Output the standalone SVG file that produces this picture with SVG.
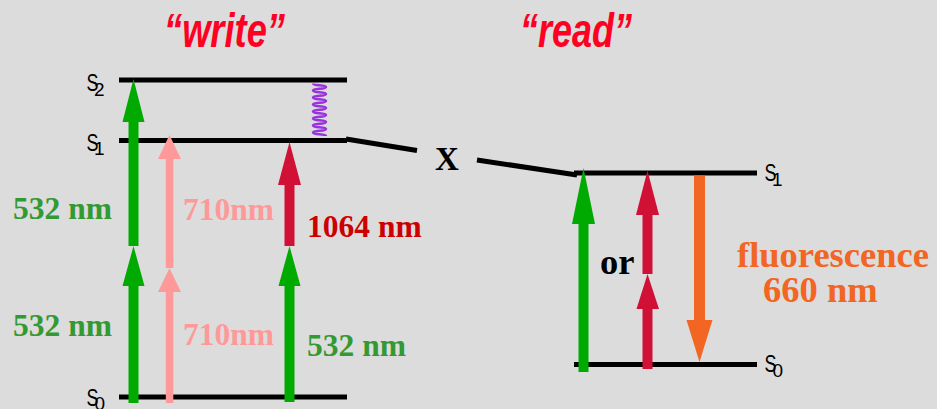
<svg xmlns="http://www.w3.org/2000/svg" width="937" height="409" viewBox="0 0 937 409">
<style>
.lvl{stroke:#000;stroke-width:5;fill:none}
.sl{font-family:"Liberation Sans",Arial,sans-serif;font-size:23px;fill:#000}
.sub{font-family:"Liberation Sans",Arial,sans-serif;font-size:19px;fill:#000}
.lab{font-family:"Liberation Serif","Times New Roman",serif;font-weight:bold;font-size:31.5px}
.big{font-family:"Liberation Serif","Times New Roman",serif;font-weight:bold;font-size:36.5px}
.title{font-family:"Liberation Sans",Arial,sans-serif;font-weight:bold;font-style:italic;font-size:49px;fill:#FF0022}
.g{fill:#00AA00}.p{fill:#FF9999}.r{fill:#D01034}.o{fill:#F26522}
</style>
<rect width="937" height="409" fill="#DCDCDC"/>
<g id="titles">
<text class="title" x="164" y="47" textLength="121" lengthAdjust="spacingAndGlyphs">“write”</text>
<text class="title" x="520" y="47" textLength="112" lengthAdjust="spacingAndGlyphs">“read”</text>
</g>
<g id="write-S2"><line class="lvl" x1="119" y1="80" x2="347" y2="80"/><text class="sl" x="86.5" y="91" textLength="12" lengthAdjust="spacingAndGlyphs">S</text><text class="sub" x="94" y="96">2</text></g>
<g id="write-S1"><line class="lvl" x1="119" y1="140.5" x2="347" y2="140.5"/><text class="sl" x="86.5" y="151" textLength="12" lengthAdjust="spacingAndGlyphs">S</text><text class="sub" x="94" y="155">1</text></g>
<g id="write-S0"><line class="lvl" x1="119" y1="397" x2="347" y2="397"/><text class="sl" x="86.5" y="406" textLength="12" lengthAdjust="spacingAndGlyphs">S</text><text class="sub" x="94.5" y="410">0</text></g>
<g id="read-S1"><line class="lvl" x1="574" y1="173" x2="757" y2="173"/><text class="sl" x="764.5" y="181" textLength="12" lengthAdjust="spacingAndGlyphs">S</text><text class="sub" x="772" y="186">1</text></g>
<g id="read-S0"><line class="lvl" x1="574" y1="364.5" x2="757" y2="364.5"/><text class="sl" x="764.5" y="372" textLength="12" lengthAdjust="spacingAndGlyphs">S</text><text class="sub" x="772.5" y="377">0</text></g>
<g id="connectors">
<path d="M346,139 L417,150.5 M477,160 L577,175" stroke="#000" stroke-width="5" fill="none"/>
<path d="M313,83.5 C313,86 326,84.5 326,87 C326,89.5 313,88 313,90.5 C313,93 326,91.5 326,94 C326,96.5 313,95 313,97.5 C313,100 326,98.5 326,101 C326,103.5 313,102 313,104.5 C313,107 326,105.5 326,108 C326,110.5 313,109 313,111.5 C313,114 326,112.5 326,115 C326,117.5 313,116 313,118.5 C313,121 326,119.5 326,122 C326,124.5 313,123 313,125.5 C313,128 326,126.5 326,129 C326,131.5 313,130 313,132.5 C313,135 326,133.5 326,136" stroke="#9933DD" stroke-width="2.6" fill="none"/>
<!-- left green -->
<rect class="g" x="128.5" y="286" width="10" height="117"/><polygon class="g" points="122.5,286 144.5,286 133.5,246"/>
<rect class="g" x="128.5" y="122" width="10" height="124"/><polygon class="g" points="122.5,122 144.5,122 133.5,79"/>
<!-- pink -->
<rect class="p" x="165.8" y="292" width="7.5" height="111"/><polygon class="p" points="158,292 181,292 169.5,268"/>
<rect class="p" x="165.8" y="159" width="7.5" height="109"/><polygon class="p" points="158,159 181,159 169.5,135"/>
<!-- middle column -->
<rect class="g" x="284.5" y="286" width="10" height="116"/><polygon class="g" points="278.5,286 300.5,286 289.5,246"/>
<rect class="r" x="284.5" y="185" width="10" height="61"/><polygon class="r" points="278,185 301,185 289.5,142"/>
<!-- read side -->
<rect class="g" x="578.5" y="224" width="10" height="148"/><polygon class="g" points="572,224 595,224 583.5,168"/>
<rect class="r" x="642.5" y="309" width="10" height="60"/><polygon class="r" points="636.5,309 659,309 647.5,274"/>
<rect class="r" x="642.5" y="215" width="10" height="59"/><polygon class="r" points="636,215 659,215 647.5,170.5"/>
<rect class="o" x="694" y="175.5" width="11" height="145"/><polygon class="o" points="686.5,320 712.5,320 699.5,362"/>
</g>
<g id="labels">
<text class="lab" x="13" y="219" fill="#339933">532 nm</text>
<text class="lab" x="13" y="336" fill="#339933">532 nm</text>
<text class="lab" x="183" y="220" fill="#FF9999">710nm</text>
<text class="lab" x="183" y="345" fill="#FF9999">710nm</text>
<text class="lab" x="307" y="237" fill="#CC0000">1064 nm</text>
<text class="lab" x="307" y="356" fill="#339933">532 nm</text>
<text class="lab" x="435" y="170" fill="#000" style="font-size:33px">X</text>
<text class="big" x="600" y="274" fill="#000">or</text>
<text class="big" x="737" y="267" fill="#F26522">fluorescence</text>
<text class="big" x="763" y="302" fill="#F26522">660 nm</text>
</g>
</svg>
